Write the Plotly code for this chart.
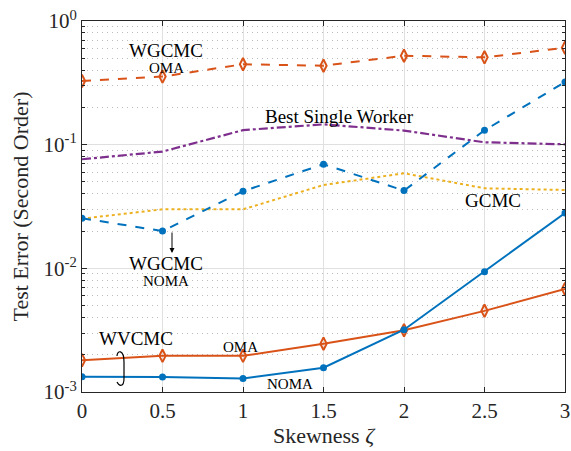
import plotly.graph_objects as go
import numpy as np

skew = [0, 0.5, 1, 1.5, 2, 2.5, 3]
wgcmc_oma = [0.327, 0.355, 0.447, 0.435, 0.524, 0.508, 0.608]
best_single = [0.0762, 0.0879, 0.131, 0.146, 0.130, 0.1045, 0.1007]
wgcmc_noma = [0.0254, 0.0200, 0.042, 0.0695, 0.0425, 0.1306, 0.321]
gcmc = [0.0252, 0.030, 0.030, 0.0472, 0.0587, 0.0444, 0.043]
wvcmc_oma = [0.00181, 0.00196, 0.00196, 0.00246, 0.00316, 0.00453, 0.0068]
wvcmc_noma = [0.00133, 0.00132, 0.001285, 0.00157, 0.00319, 0.0094, 0.028]

x_ticks = [0, 0.5, 1, 1.5, 2, 2.5, 3]
x_ticklabels = ["0", "0.5", "1", "1.5", "2", "2.5", "3"]
y_ticks = [1e-3, 1e-2, 1e-1, 1e0]
y_ticklabels = ["10<sup>-3</sup>", "10<sup>-2</sup>", "10<sup>-1</sup>", "10<sup>0</sup>"]

BLUE = "#0072BD"
ORANGE = "#D95319"
YELLOW = "#EDB120"
PURPLE = "#7E2F8E"
FONT = "Liberation Serif, Times New Roman, serif"

W, H = 571, 451
L, R, T, B = 82, 6, 21, 59
PW, PH = W - L - R, H - T - B


def px(x, y):
    return (x - L) / PW, (H - B - y) / PH


fig = go.Figure()
fig.add_trace(go.Scatter(x=skew, y=gcmc, mode="lines",
                         line=dict(color=YELLOW, width=2, dash="dot")))
fig.add_trace(go.Scatter(x=skew, y=best_single, mode="lines",
                         line=dict(color=PURPLE, width=2.2, dash="dashdot")))
fig.add_trace(go.Scatter(x=skew, y=wgcmc_noma, mode="lines+markers",
                         line=dict(color=BLUE, width=2, dash="dash"),
                         marker=dict(symbol="circle", size=7, color=BLUE)))
fig.add_trace(go.Scatter(x=skew, y=wgcmc_oma, mode="lines+markers",
                         line=dict(color=ORANGE, width=2, dash="dash"),
                         marker=dict(symbol="diamond-tall-open", size=9, color=ORANGE,
                                     line=dict(width=2, color=ORANGE))))
fig.add_trace(go.Scatter(x=skew, y=wvcmc_oma, mode="lines+markers",
                         line=dict(color=ORANGE, width=2),
                         marker=dict(symbol="diamond-tall-open", size=9, color=ORANGE,
                                     line=dict(width=2, color=ORANGE))))
fig.add_trace(go.Scatter(x=skew, y=wvcmc_noma, mode="lines+markers",
                         line=dict(color=BLUE, width=2),
                         marker=dict(symbol="circle", size=7, color=BLUE)))

annots = []


def txt(text, x, y, size):
    xp, yp = px(x, y)
    annots.append(dict(text=text, x=xp, y=yp, xref="paper", yref="paper",
                       showarrow=False, xanchor="center", yanchor="middle",
                       font=dict(family=FONT, size=size, color="black")))


txt("WGCMC", 166, 50, 19)
txt("OMA", 166, 68, 15)
txt("Best Single Worker", 339, 116, 19)
txt("GCMC", 493, 200, 19)
txt("WGCMC", 166, 263, 19)
txt("NOMA", 166, 281, 15)
txt("WVCMC", 136, 338, 19)
txt("OMA", 240, 347, 15)
txt("NOMA", 290, 384, 15)

tx, ty = px(172, 253)
annots.append(dict(text="", x=tx, y=ty, xref="paper", yref="paper",
                   showarrow=True, ax=0, ay=-22, arrowhead=2, arrowsize=1,
                   arrowwidth=1, arrowcolor="black"))

# loop brace near WVCMC
pts = [(117, 356), (117, 350), (124, 349), (124, 362), (124, 378), (124, 388), (119, 386), (117, 382)]
pp = [px(a, b) for a, b in pts]
path = "M {0},{1} C {2},{3} {4},{5} {6},{7} L {8},{9} C {10},{11} {12},{13} {14},{15}".format(
    *[v for p in pp for v in p])

fig.update_layout(
    width=W, height=H,
    margin=dict(l=L, r=R, t=T, b=B, autoexpand=False),
    paper_bgcolor="white", plot_bgcolor="white",
    showlegend=False,
    font=dict(family=FONT, size=21, color="#262626"),
    annotations=annots,
    shapes=[dict(type="path", path=path, xref="paper", yref="paper",
                 line=dict(color="black", width=1.2))],
)
fig.update_xaxes(
    range=[0, 3], tickvals=x_ticks, ticktext=x_ticklabels,
    showgrid=True, gridcolor="#e0e0e0", gridwidth=1,
    showline=True, linecolor="#262626", linewidth=1, mirror="ticks",
    ticks="inside", ticklen=5, tickcolor="#262626",
    tickfont=dict(family=FONT, size=21, color="#262626"),
    title=dict(text="Skewness <i>ζ</i>", font=dict(family=FONT, size=22, color="#262626"), standoff=4),
    zeroline=False, automargin=False,
)
minor_vals = [m * 10.0 ** k for k in range(-3, 0) for m in range(2, 10)]
fig.update_yaxes(
    type="log", range=[-3, 0], tickvals=y_ticks, ticktext=y_ticklabels,
    showgrid=True, gridcolor="#e0e0e0", gridwidth=1,
    showline=True, linecolor="#262626", linewidth=1, mirror="ticks",
    ticks="inside", ticklen=5, tickcolor="#262626",
    tickfont=dict(family=FONT, size=21, color="#262626"),
    minor=dict(tickvals=minor_vals, ticks="inside", ticklen=3, tickcolor="#262626",
               showgrid=True, gridcolor="#bdbdbd", griddash="1px,4px", gridwidth=1),
    title=dict(text="Test Error (Second Order)", font=dict(family=FONT, size=22, color="#262626"), standoff=8),
    zeroline=False, automargin=False,
)

fig.write_html("out.html", config={"displayModeBar": False},
               post_script="document.body.style.margin='0';document.body.style.padding='0';")
